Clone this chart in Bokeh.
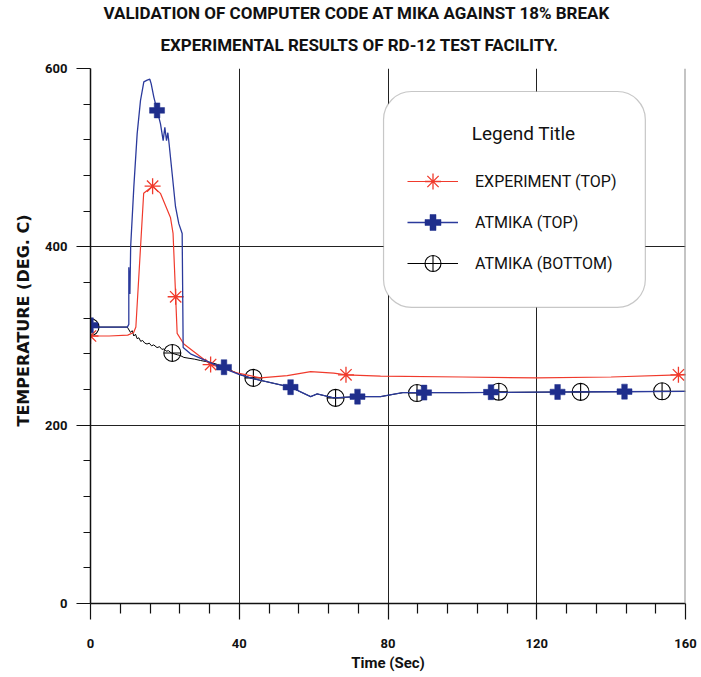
from bokeh.plotting import figure
from bokeh.models import (Range1d, FixedTicker, Title, Legend, LegendItem,
                          BoxAnnotation, Label, Span)
from bokeh.embed import file_html
from bokeh.resources import INLINE

# ---------------- data ----------------
exp_t = [0, 5, 10, 11.6, 12.2, 14.3, 16.7, 18.8, 21.5, 22.2, 23.3, 25.1, 32.3,
         40, 45.7, 52.9, 59.2, 65.4, 68.7, 78, 100, 120, 140, 158.1, 160]
exp_v = [300, 300, 301, 304, 310, 460, 468, 460, 433, 415, 303, 291, 268,
         258, 253, 255.5, 260, 258.3, 256.5, 255, 254, 253, 254, 256.5, 257]
exp_mk_t = [0, 16.7, 22.9, 32.3, 68.7, 158.1]
exp_mk_v = [300, 468, 344, 268, 256.5, 256.5]

top_t = [0, 9.9, 10.3, 10.3, 10.6, 10.8, 11.65, 12.55, 13.44, 14.34, 15.24,
         15.95, 16.31, 17.03, 17.92, 18.82, 19.54, 19.99, 20.44, 20.8, 21.15,
         21.96, 22.86, 23.75, 24.65, 24.92, 26.89, 34.96, 39.9, 43.9, 53.8,
         59.2, 60.95, 65.4, 71.7, 78, 82, 84, 100, 120, 140, 160]
top_v = [310, 310, 313, 377, 347, 400, 467, 527, 564, 585, 587,
         588, 583, 568, 553, 538, 519, 534, 519, 528, 515,
         482, 445, 426, 415, 287, 280, 265, 257, 252, 242.6,
         232, 235, 230.6, 232, 232, 235, 236.5, 236.5, 237, 237.5, 238]
top_mk_t = [0, 17.9, 35.9, 53.8, 71.8, 89.7, 107.7, 125.6, 143.6]
top_mk_v = [312, 553, 265, 242.6, 232, 236.5, 237, 237.2, 237.6]

bot_t = [0, 9.9, 10.75, 11.2, 11.65, 12.1, 12.55, 13.0, 13.5, 14.0, 14.6,
         15.2, 15.8, 16.4, 17.0, 17.9, 18.6, 19.2, 19.7, 20.3, 21.0, 21.7,
         22.5, 23.3, 24.2, 25.1, 26.5, 28.0, 29.6, 31.5, 33.5, 36, 40, 43.9,
         53.8, 59.2, 60.95, 65.4, 71.7, 78, 82, 84, 100, 120, 140, 160]
bot_v = [310, 310, 304, 306, 300, 302, 297, 298, 294, 295, 292,
         291, 292, 289, 290, 287, 288, 285, 285.5, 283, 283.5, 281,
         280, 279, 278, 276, 275, 274, 272.5, 271, 269, 265, 257, 252,
         242.6, 232, 235, 230.6, 232, 232, 235, 236.5, 236.5, 237, 237.5, 238]
bot_mk_t = [0, 22, 43.8, 65.9, 87.8, 109.8, 131.8, 153.7]
bot_mk_v = [310, 281, 253, 230.6, 236, 237.5, 237.3, 238]

x_ticks = [0, 40, 80, 120, 160]
x_minor = [8, 16, 24, 32, 48, 56, 64, 72, 88, 96, 104, 112, 128, 136, 144, 152]
y_ticks = [0, 200, 400, 600]
y_minor = [40, 80, 120, 160, 240, 280, 320, 360, 440, 480, 520, 560]

labels = ["EXPERIMENT (TOP)", "ATMIKA (TOP)", "ATMIKA (BOTTOM)"]
title1 = "VALIDATION OF COMPUTER CODE AT MIKA AGAINST 18% BREAK"
title2 = "EXPERIMENTAL RESULTS OF RD-12 TEST FACILITY."
y_title = "TEMPERATURE (DEG. C)"
x_title = "Time (Sec)"

RED = "#f03a2c"
BLUE = "#2b3a9c"
BLUE_MK = "#1f2e8c"
FONT = "Roboto"

# ---------------- figure ----------------
p = figure(width=701, height=677, output_backend="svg", toolbar_location=None,
           x_range=Range1d(0, 160), y_range=Range1d(0, 600),
           min_border_left=90, min_border_right=16, min_border_bottom=74,
           min_border_top=68, outline_line_color=None)

p.add_layout(Title(text=title2, align="left", offset=70, text_font=FONT,
                   text_font_size="17px", text_font_style="bold",
                   text_color="#111111", standoff=27), "above")
p.add_layout(Title(text=title1, align="left", offset=13, text_font=FONT,
                   text_font_size="17px", text_font_style="bold",
                   text_color="#111111", standoff=-7), "above")

for ax, tk, mn in ((p.xaxis[0], x_ticks, x_minor), (p.yaxis[0], y_ticks, y_minor)):
    ax.ticker = FixedTicker(ticks=tk, minor_ticks=mn)
    ax.axis_line_width = 1.5
    ax.axis_line_color = "#111111"
    ax.major_tick_line_color = "#111111"
    ax.minor_tick_line_color = "#111111"
    ax.major_tick_line_width = 1.2
    ax.minor_tick_line_width = 1.2
    ax.major_tick_in = 0
    ax.minor_tick_in = 0
    ax.major_label_text_font = FONT
    ax.major_label_text_font_style = "bold"
    ax.major_label_text_font_size = "13px"
    ax.major_label_text_color = "#111111"

p.xaxis.major_tick_out = 16
p.xaxis.minor_tick_out = 10
p.xaxis.major_label_standoff = 19
p.xaxis.axis_label = x_title
p.xaxis.axis_label_text_font = FONT
p.xaxis.axis_label_text_font_style = "bold"
p.xaxis.axis_label_text_font_size = "15px"
p.xaxis.axis_label_text_color = "#111111"
p.xaxis.axis_label_standoff = 3

p.yaxis.major_tick_out = 14
p.yaxis.minor_tick_out = 7
p.yaxis.major_label_standoff = 9

# y-axis title as a side title so it can sit slightly above the frame centre
p.add_layout(Title(text=y_title, align="left", offset=177,
                   text_font="DejaVu Sans", text_font_style="bold",
                   text_font_size="16px", text_color="#111111",
                   standoff=19), "left")

p.grid.grid_line_color = "#222222"
p.grid.grid_line_width = 1

# ---------------- series ----------------
lb = p.line(bot_t, bot_v, line_color="black", line_width=1)
mb = p.scatter(bot_mk_t, bot_mk_v, marker="circle_cross", size=17,
               fill_color=None, line_color="black", line_width=1.1)
lr = p.line(exp_t, exp_v, line_color=RED, line_width=1.2)
mr = p.scatter(exp_mk_t, exp_mk_v, marker="asterisk", size=16,
               line_color=RED, line_width=1.3)
lt = p.line(top_t, top_v, line_color=BLUE, line_width=1.3)
mt = p.scatter(top_mk_t, top_mk_v, marker="plus", size=15,
               fill_color=BLUE_MK, line_color=BLUE_MK, line_width=0.5)

p.add_layout(Span(location=160, dimension="height", line_color="#8a8a8a",
                  line_width=2))

# ---------------- legend ----------------
box = BoxAnnotation(left=78.8, right=149.2, bottom=332, top=574.2,
                    fill_color="white", fill_alpha=1, line_color="#444444",
                    line_width=1.2, border_radius=28, level="annotation")
p.add_layout(box)

p.add_layout(Label(x=102.5, y=527, text="Legend Title", text_font=FONT,
                   text_font_size="19px", text_baseline="middle",
                   text_align="left", text_color="#111111"))

legend = Legend(items=[LegendItem(label=labels[0], renderers=[lr, mr]),
                       LegendItem(label=labels[1], renderers=[lt, mt]),
                       LegendItem(label=labels[2], renderers=[lb, mb])],
                location=(317, 320), glyph_width=51, glyph_height=40,
                spacing=1, padding=0, margin=0, label_standoff=17,
                label_text_font=FONT, label_text_font_size="16px",
                label_text_color="#111111",
                border_line_color=None, background_fill_alpha=0)
p.add_layout(legend)

open("out.html", "w").write(file_html(p, INLINE))
